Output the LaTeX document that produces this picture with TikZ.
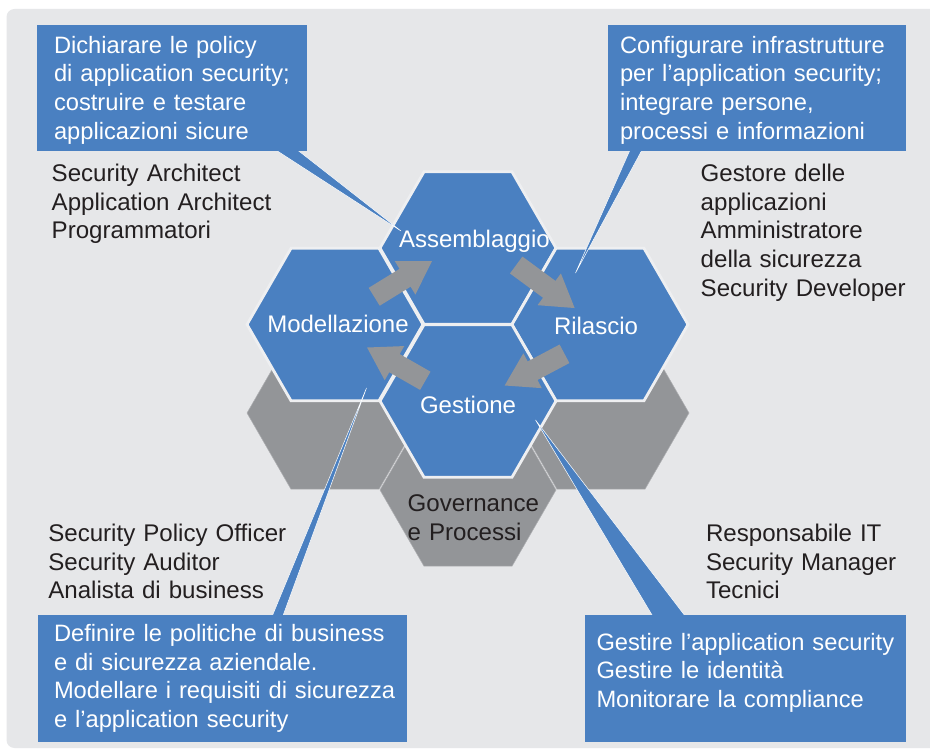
\documentclass[tikz,border=0pt]{standalone}
\usepackage{fontspec}
\setmainfont{Liberation Sans}
\usetikzlibrary{arrows.meta,shapes.geometric}
\definecolor{bgc}{HTML}{E6E7E9}
\definecolor{blu}{HTML}{4A80C1}
\definecolor{gry}{HTML}{939598}
\definecolor{ink}{HTML}{231F20}
\definecolor{edgec}{HTML}{EEEFF1}
\tikzset{
  hexb/.style={regular polygon, regular polygon sides=6, minimum size=176pt,
    inner sep=0pt, outer sep=0pt, fill=blu, draw=edgec, line width=2.8pt},
  hexg/.style={regular polygon, regular polygon sides=6, minimum size=176pt,
    inner sep=0pt, outer sep=0pt, fill=gry, draw=gry!75!white, line width=0.5pt},
  txt/.style={font=\fontsize{23.7}{28.6}\selectfont, inner sep=0pt, outer sep=0pt,
    anchor=base west, align=left, text width=#1},
  txt/.default=330pt,
  wtxt/.style={txt=#1, text=white},
  wtxt/.default=330pt,
  ktxt/.style={txt=#1, text=ink, font=\fontsize{24.1}{28.6}\selectfont},
  ktxt/.default=330pt,
  callbox/.style={rectangle, fill=blu, inner sep=0pt, outer sep=0pt, anchor=north west},
  wedge/.style={fill=blu, draw=white, line width=0.5pt, line join=miter},
  garrow/.style={draw=gry, line width=21pt, -{Triangle[width=37pt,length=32pt]}}
}
\begin{document}
\begin{tikzpicture}[x=1pt,y=-1pt]
\useasboundingbox (0,0) rectangle (930,751);
\clip (0,0) rectangle (930,751);
\fill[white] (0,0) rectangle (930,751);
\fill[bgc, rounded corners=8pt] (6.5,9) rectangle (950,748);

% gray hexagons (lower layer)
\node[hexg] (gl) at (335,413) {};
\node[hexg] (gr) at (601,413) {};
\node[hexg] (gb) at (468,490) {};

% blue hexagons
\node[hexb] (hA) at (468,248) {};
\node[hexb] (hM) at (335,324.5) {};
\node[hexb] (hR) at (600,324.5) {};
\node[hexb] (hG) at (468,401) {};

% gray block arrows
\coordinate (a1s) at (374.2,296.8); \coordinate (a1e) at (432.3,261);
\coordinate (a2s) at (516.2,265);   \coordinate (a2e) at (575,308.3);
\coordinate (a3s) at (564.5,353.8); \coordinate (a3e) at (504.3,385.7);
\coordinate (a4s) at (425.3,380.8); \coordinate (a4e) at (366.7,347.3);
\draw[garrow] (a1s) -- (a1e);
\draw[garrow] (a2s) -- (a2e);
\draw[garrow] (a3s) -- (a3e);
\draw[garrow] (a4s) -- (a4e);

% hexagon labels
\node[wtxt=200pt, font=\fontsize{24}{28.6}\selectfont] (lA) at (399,247.3) {Assemblaggio};
\node[wtxt=200pt, font=\fontsize{24}{28.6}\selectfont] (lM) at (267.3,332.3) {Modellazione};
\node[wtxt=200pt, font=\fontsize{24}{28.6}\selectfont] (lR) at (554,335) {Rilascio};
\node[wtxt=200pt, font=\fontsize{24}{28.6}\selectfont] (lG) at (420,413.3) {Gestione};
\node[ktxt=200pt] (lP) at (407.7,511.7) {Governance\\e Processi};

% callout wedges
\coordinate (w1) at (401,231);
\coordinate (w2) at (575.5,273);
\coordinate (w3) at (366.5,388);
\coordinate (w4) at (535.5,420);
\fill[wedge] (260.4,140) -- (w1) -- (284.7,140) -- cycle;
\fill[wedge] (634.4,140) -- (w2) -- (647.4,140) -- cycle;
\fill[wedge] (268.5,625) -- (w3) -- (279.6,625) -- cycle;
\fill[wedge] (658,625) -- (w4) -- (692,625) -- cycle;

% callout boxes
\node[callbox, minimum width=269.4pt, minimum height=126pt] (b1) at (37.3,25) {};
\node[callbox, minimum width=298pt, minimum height=126.5pt] (b2) at (608,25) {};
\node[callbox, minimum width=369pt, minimum height=127pt] (b3) at (38,615) {};
\node[callbox, minimum width=321pt, minimum height=127pt] (b4) at (585,615) {};

\node[wtxt] (t1) at (54,53.3) {Dichiarare le policy\\di application security;\\costruire e testare\\applicazioni sicure};
\node[wtxt] (t2) at (620,53.3) {Configurare infrastrutture\\per l’application security;\\integrare persone,\\processi e informazioni};
\node[wtxt=360pt] (t3) at (54,641.7) {Definire le politiche di business\\e di sicurezza aziendale.\\Modellare i requisiti di sicurezza\\e l’application security};
\node[wtxt] (t4) at (596.5,650) {Gestire l’application security\\Gestire le identità\\Monitorare la compliance};

% role texts
\node[ktxt] (r1) at (51.7,181.7) {Security Architect\\Application Architect\\Programmatori};
\node[ktxt=225pt] (r2) at (700.7,181.7) {Gestore delle\\applicazioni\\Amministratore\\della sicurezza\\Security Developer};
\node[ktxt] (r3) at (48.3,541.7) {Security Policy Officer\\Security Auditor\\Analista di business};
\node[ktxt=220pt] (r4) at (706,541.7) {Responsabile IT\\Security Manager\\Tecnici};
\end{tikzpicture}
\end{document}
